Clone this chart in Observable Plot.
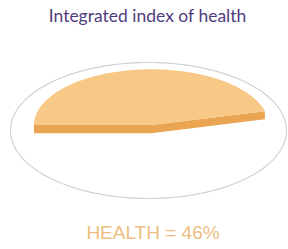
<!DOCTYPE html>
<html><head><meta charset="utf-8">
<script src="https://cdn.jsdelivr.net/npm/d3@7"></script>
<script src="https://cdn.jsdelivr.net/npm/@observablehq/plot@0.6"></script>
<style>
body{margin:0;background:#fff;width:288px;height:249px;overflow:hidden}
#title{height:30px;line-height:32px;padding-left:7px;text-align:center;font-family:Lato,sans-serif;font-size:17.5px;color:#4f3c7c;white-space:nowrap}
#cap{height:39px;line-height:46px;padding-left:18px;text-align:center;font-family:"Liberation Sans",Arial,sans-serif;font-size:19px;color:#ecbd7e;white-space:nowrap}
#chart svg{display:block}
</style></head><body>
<div id="title"></div><div id="chart"></div><div id="cap"></div>
<script>
const categories = ["HEALTH", "Other"];
const values = [46, 54];
const titleText = "Integrated index of health";

const total = d3.sum(values);
const share = values[0] / total;

// outer ellipse (unit circle in data space)
const outerRing = d3.range(0, 361, 2).map(a => ({x: Math.cos(a * Math.PI / 180), y: Math.sin(a * Math.PI / 180)}));

// slice geometry (top surface), drawn with a slight offset and a thickness
const cx = 0.02, cy = 0.08, rx = 0.85, ry = 0.82, th = 0.12;
const a0 = 180, a1 = 180 - 360 * share;
const pt = a => ({x: cx + rx * Math.cos(a * Math.PI / 180), y: cy + ry * Math.sin(a * Math.PI / 180)});
const arcPts = d3.range(a0, a1, -2).concat([a1]).map(pt);
const topFace = [{x: cx, y: cy}, ...arcPts];
const L = pt(a0), R = pt(a1), C = {x: cx, y: cy};
const sideFace = [L, C, R, {x: R.x, y: R.y - th}, {x: C.x, y: C.y - th}, {x: L.x, y: L.y - th}];

const chart = Plot.plot({
  width: 288, height: 180,
  margin: 0,
  x: {domain: [-1, 1], range: [10, 286], axis: null},
  y: {domain: [-1, 1], range: [168, 32], axis: null},
  marks: [
    Plot.line(outerRing, {x: "x", y: "y", stroke: "#cfcfcf", strokeWidth: 1.1}),
    Plot.line(sideFace, {x: "x", y: "y", fill: "#e9a552", stroke: "none", curve: "linear-closed"}),
    Plot.line(topFace, {x: "x", y: "y", fill: "#f8c986", stroke: "none", curve: "linear-closed"})
  ]
});
document.getElementById("chart").appendChild(chart);
document.getElementById("title").textContent = titleText;
document.getElementById("cap").textContent = `${categories[0]} = ${values[0]}%`;
</script>
</body></html>
